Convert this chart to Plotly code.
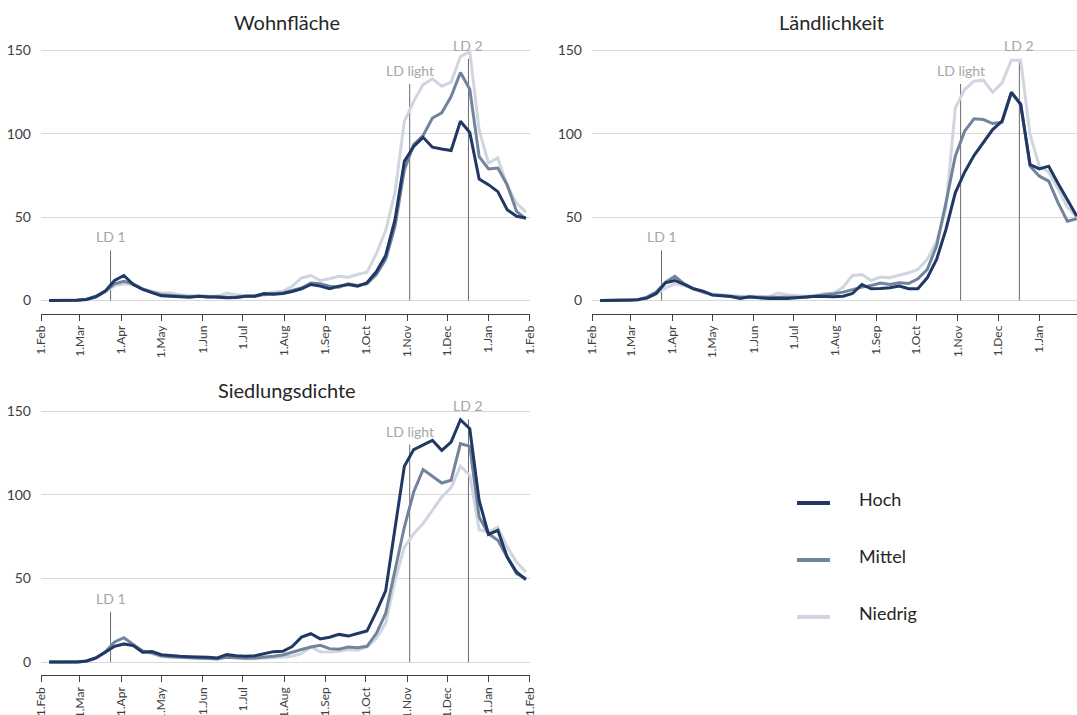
import pandas as pd
import plotly.graph_objects as go

# Weekly reporting dates (one point per week)
weeks = pd.date_range("2020-02-07", periods=52, freq="7D")

# Month ticks on the x axes
tick_dates = pd.date_range("2020-02-01", "2021-02-01", freq="MS")
tick_labels = ["1.Feb", "1.Mar", "1.Apr", "1.May", "1.Jun", "1.Jul", "1.Aug",
               "1.Sep", "1.Oct", "1.Nov", "1.Dec", "1.Jan", "1.Feb"]

# Wohnfläche
hoch_w = [0, 0, 0, 0.2, 0.6, 2.2, 5.6, 12, 15, 9.6, 6.6, 4.6, 2.8, 2.6, 2.2, 2,
          2.6, 2.2, 1.6, 1.6, 1.8, 2.6, 2.6, 4.2, 3.8, 4.2, 5.4, 7, 9.6, 8.6, 7, 8.6,
          9.6, 8.6, 10.6, 17.2, 27, 48.5, 83.5, 92.5, 97.9, 92, 90.9, 90, 107.6, 100.8,
          72.9, 69.5, 65.3, 54.5, 50.5, 49.5]
mittel_w = [0, 0, 0, 0.3, 0.8, 2.5, 5.5, 10, 11.5, 10, 7, 5, 3.5, 3, 2.5, 2.3,
            2.5, 2, 2.5, 2, 2, 2.5, 2.5, 3.5, 4, 4.5, 6, 7.5, 10.5, 10, 8.5, 8,
            10, 9, 10, 15.6, 24.6, 44.5, 78.5, 93.5, 98.9, 109.5, 112.6, 122.4, 136.8, 126.8,
            86.3, 78.9, 79.5, 69.5, 53.5, 49]
niedrig_w = [0, 0, 0, 0, 0.5, 2, 5, 9, 10, 9.5, 7, 5.5, 4.5, 4.5, 3.5, 3,
             3, 2.5, 2.5, 4.5, 3.5, 3, 3, 4, 5, 5.5, 8.5, 13.5, 15, 12, 13, 14.5,
             14, 15.6, 17, 28, 42, 65, 107.5, 119.5, 129.5, 133, 128.6, 131, 146.4, 149.4,
             102.4, 82.5, 85.5, 68.5, 58.5, 53]

# Ländlichkeit
hoch_l = [0, 0, 0, 0, 0.4, 1.4, 4.2, 10.6, 12, 9.6, 7, 5.6, 3.2, 2.8, 2.4, 1.2,
          2.2, 1.6, 1.2, 1.4, 1.2, 1.6, 2.2, 2.6, 2.4, 2.2, 2.6, 4.2, 9.6, 7, 7.2, 7.6,
          8.6, 7, 7, 13.6, 24.6, 42.6, 64.6, 77, 87, 94.6, 102.6, 107.6, 125, 117.6,
          81.6, 79, 80.6, 70.2, 60.6, 50.6]
mittel_l = [0, 0, 0, 0, 0.5, 2, 5, 11, 14.5, 10, 7, 5, 3.5, 3, 2.5, 2,
            2, 2, 2, 2, 2, 2, 2, 2.5, 3.5, 4, 5, 6.5, 8, 9, 10.5, 9.6,
            10.6, 10.2, 13, 18.6, 32.6, 58.6, 86.6, 101.6, 109, 108.6, 106.2, 107, 124.6, 118,
            80.6, 74.6, 71.6, 58.6, 47.6, 49]
niedrig_l = [0, 0, 0, 0, 0.3, 1.5, 4, 7.5, 10, 9, 7, 5.5, 4, 3.5, 3, 2.5,
             2.5, 2.5, 2, 4.5, 3.5, 3, 2.5, 3, 4, 4.5, 8, 15, 15.6, 12, 14, 13.6,
             15, 16.6, 18.6, 24.6, 35.6, 55, 115.6, 126.6, 131.6, 132.2, 125, 130.6, 144.2, 144.2,
             99.6, 80.6, 77, 67, 56, 50]

# Siedlungsdichte
hoch_s = [0, 0, 0, 0, 0.6, 2.4, 5.8, 9.4, 10.8, 9.8, 5.8, 6.2, 4.4, 3.8, 3.4, 3.2,
          3.2, 2.8, 2.4, 4.4, 3.8, 3.4, 3.8, 4.8, 6.2, 6.4, 9.2, 14.9, 16.9, 13.8, 14.8, 16.5,
          15.5, 17, 18.5, 30, 42.5, 80, 117, 127, 130, 132.5, 126.5, 131.5, 144.8, 139.4,
          96.6, 76.3, 78.7, 62.7, 53.8, 49.2]
mittel_s = [0, 0, 0, 0, 0.5, 2.4, 6, 12, 14.5, 10.5, 6.5, 5.5, 3.8, 3.2, 3, 2.5,
            2.5, 2.3, 2, 2.8, 2.5, 2.2, 2.4, 2.8, 3.5, 4.2, 6, 7.5, 9, 10, 8, 7.6,
            9, 8.6, 9.4, 17, 29, 55, 80.7, 101.6, 115, 111, 107, 108.6, 130.5, 128.9,
            86.7, 76.7, 72.7, 62.7, 52.8, 49.8]
niedrig_s = [0, 0, 0, 0, 0.4, 2, 5.5, 9.5, 11, 10, 7, 5, 3.2, 3, 2.6, 2.2,
             2, 2, 1.5, 3.2, 2.5, 2, 2, 2.2, 2.8, 3, 3.5, 5, 9, 6.2, 6, 6.4,
             7.4, 7, 9, 14, 23, 48.8, 68.7, 76.7, 82.7, 90.6, 98.6, 104.2, 117, 111.6,
             79.1, 77.7, 80.7, 68.7, 59.8, 53.8]

# Lockdown markers: label, date, marker height
ld_labels = ["LD 1", "LD light", "LD 2"]
ld_dates = ["2020-03-24", "2020-11-03", "2020-12-17"]
ld_heights = [30, 130, 145]

series_names = ["Hoch", "Mittel", "Niedrig"]
series_colors = ["#1F3864", "#72849D", "#CFD6E0"]

FONT = "Lato"
W, H = 1077, 715


def fx(p):
    return p / W


def fy(p):
    return 1 - p / H


panels = [
    dict(title="Wohnfläche", data=(hoch_w, mittel_w, niedrig_w),
         px_x=(41, 530), px_y=(47.2, 313.8), title_xy=(287, 22),
         xend="2021-02-01 02:00"),
    dict(title="Ländlichkeit", data=(hoch_l, mittel_l, niedrig_l),
         px_x=(592, 1077), px_y=(47.2, 313.8), title_xy=(831, 22),
         xend="2021-01-29 04:00"),
    dict(title="Siedlungsdichte", data=(hoch_s, mittel_s, niedrig_s),
         px_x=(41, 530), px_y=(407.7, 675.4), title_xy=(287, 390),
         xend="2021-02-01 02:00"),
]

fig = go.Figure()
annotations = []
shapes = []
layout = {}

for k, p in enumerate(panels, start=1):
    xa = "x" if k == 1 else f"x{k}"
    ya = "y" if k == 1 else f"y{k}"

    # lockdown marker lines
    for lbl, d, h in zip(ld_labels, ld_dates, ld_heights):
        fig.add_trace(go.Scatter(x=[d, d], y=[0, h], mode="lines",
                                 line=dict(color="#6b6b6b", width=1),
                                 showlegend=False, hoverinfo="skip",
                                 xaxis=xa, yaxis=ya))
        annotations.append(dict(x=d, y=h, xref=xa, yref=ya, text=lbl,
                                showarrow=False, yanchor="bottom", yshift=3,
                                font=dict(family=FONT, size=14, color="#a6a6a6")))

    # series lines (light first so dark lies on top)
    for vals, name, col in reversed(list(zip(p["data"], series_names, series_colors))):
        fig.add_trace(go.Scatter(x=weeks, y=vals, mode="lines", name=name,
                                 line=dict(color=col, width=3),
                                 showlegend=False, xaxis=xa, yaxis=ya))

    x0, x1 = p["px_x"]
    top, bottom = p["px_y"]
    layout["xaxis" if k == 1 else f"xaxis{k}"] = dict(
        domain=[fx(x0), fx(x1)], anchor=ya, automargin=False,
        range=["2020-01-31 22:00", p["xend"]],
        tickmode="array", tickvals=tick_dates, ticktext=tick_labels,
        tickangle=-90, tickfont=dict(family=FONT, size=12, color="#404040"),
        ticks="outside", ticklen=6, tickcolor="#404040",
        showline=True, linecolor="#404040", linewidth=1,
        showgrid=False, zeroline=False,
    )
    layout["yaxis" if k == 1 else f"yaxis{k}"] = dict(
        domain=[fy(bottom), fy(top)], anchor=xa, automargin=False,
        range=[-8, 152], tickvals=[0, 50, 100, 150],
        tickfont=dict(family=FONT, size=14, color="#404040"),
        showgrid=True, gridcolor="#d9d9d9", gridwidth=1,
        zeroline=False, showline=False, ticks="", ticklabelstandoff=9,
    )
    tx, ty = p["title_xy"]
    annotations.append(dict(x=fx(tx), y=fy(ty), xref="paper", yref="paper",
                            text=p["title"], showarrow=False,
                            xanchor="center", yanchor="middle",
                            font=dict(family=FONT, size=20, color="#262626")))

# legend
legend_rows = [503, 560, 617]
for name, col, yrow in zip(series_names, series_colors, legend_rows):
    shapes.append(dict(type="line", xref="paper", yref="paper",
                       x0=fx(797), x1=fx(830), y0=fy(yrow), y1=fy(yrow),
                       line=dict(color=col, width=4)))
    annotations.append(dict(x=fx(857), y=fy(yrow - 4), xref="paper", yref="paper",
                            text=name, showarrow=False, xanchor="left", yanchor="middle",
                            font=dict(family=FONT, size=18, color="#262626")))

fig.update_layout(
    width=W, height=H,
    margin=dict(l=0, r=0, t=0, b=0, pad=0, autoexpand=False),
    paper_bgcolor="white", plot_bgcolor="white",
    showlegend=False,
    annotations=annotations, shapes=shapes,
    font=dict(family=FONT),
    **layout,
)

fig.write_html("out.html")
